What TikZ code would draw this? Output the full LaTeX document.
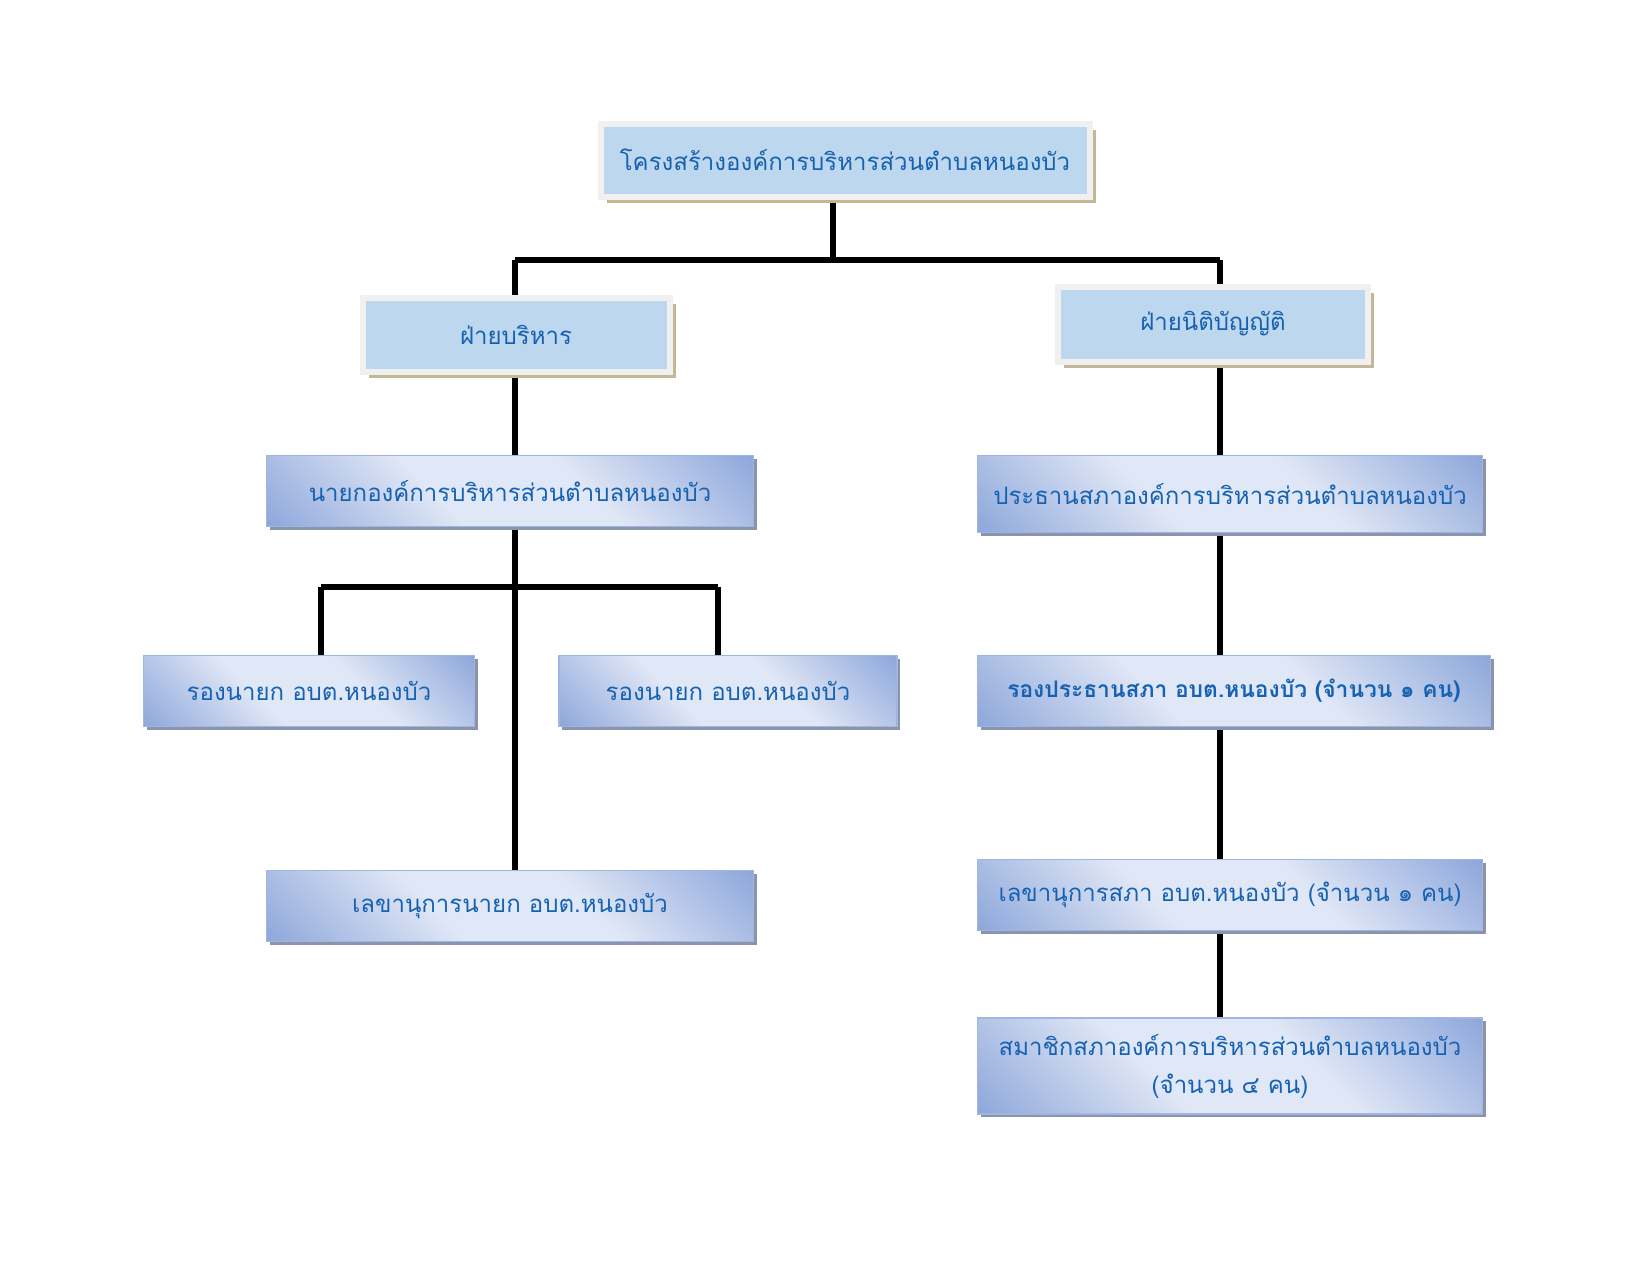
\documentclass[tikz,border=0pt]{standalone}
\usepackage{fontspec}
\newfontfamily\thaifont[Script=Thai]{Loma}
\usepackage{tikz}
\usetikzlibrary{shadows,backgrounds}
\definecolor{obtblue}{RGB}{22,98,178}
\definecolor{obtfill}{RGB}{189,215,238}
\definecolor{obtframe}{RGB}{240,240,240}
\definecolor{obttan}{RGB}{196,183,150}
\definecolor{obtlight}{RGB}{224,231,246}
\definecolor{obtdark}{RGB}{143,168,219}
\definecolor{obtedge}{RGB}{160,182,222}
\definecolor{obtshadow}{RGB}{138,148,172}
\pgfdeclareverticalshading{obtgrad}{100bp}{color(0bp)=(obtdark); color(15bp)=(obtdark); color(40bp)=(obtlight); color(60bp)=(obtlight); color(85bp)=(obtdark); color(100bp)=(obtdark)}
\tikzstyle{headbox} = [rectangle, draw=obtframe, line width=3pt, fill=obtfill, inner sep=0pt, text=obtblue, font=\thaifont\fontsize{12}{15}\selectfont, drop shadow={shadow xshift=3pt, shadow yshift=-3pt, fill=obttan, opacity=1}]
\tikzstyle{gradbox} = [rectangle, draw=obtedge, line width=0.6pt, shading=obtgrad, shading angle=-45, inner sep=0pt, align=center, text=obtblue, font=\thaifont\fontsize{12}{19}\selectfont, drop shadow={shadow xshift=1.5pt, shadow yshift=-1.5pt, fill=obtshadow, opacity=1}]
\tikzstyle{link} = [line width=3.2pt, black]

\begin{document}
\begin{tikzpicture}[x=0.5pt, y=-0.5pt]
    \useasboundingbox (0,0) rectangle (1650,1275);

    % top and the two sides
    \node[headbox, minimum width=244.5pt, minimum height=36.5pt] (top) at (845,160) {โครงสร้างองค์การบริหารส่วนตำบลหนองบัว};
    \node[headbox, minimum width=153.5pt, minimum height=37pt] (exec) at (516,335) {ฝ่ายบริหาร};
    \node[headbox, minimum width=155pt, minimum height=37.5pt] (legis) at (1213,324) {ฝ่ายนิติบัญญัติ};

    % executive side
    \node[gradbox, minimum width=243.5pt, minimum height=35.5pt] (mayor) at (510,491) {นายกองค์การบริหารส่วนตำบลหนองบัว};
    \node[gradbox, minimum width=165.5pt, minimum height=35.5pt] (deputyL) at (309,691) {รองนายก อบต.หนองบัว};
    \node[gradbox, minimum width=169pt, minimum height=35.5pt] (deputyR) at (728,691) {รองนายก อบต.หนองบัว};
    \node[gradbox, minimum width=243.5pt, minimum height=35.5pt] (secmayor) at (510,906) {เลขานุการนายก อบต.หนองบัว};

    % council side
    \node[gradbox, minimum width=252.5pt, minimum height=38.5pt] (chair) at (1230,494) {ประธานสภาองค์การบริหารส่วนตำบลหนองบัว};
    \node[gradbox, minimum width=256.5pt, minimum height=35.5pt] (vicechair) at (1234,691) {\bfseries\fontsize{11.4}{14}\selectfont รองประธานสภา อบต.หนองบัว (จำนวน ๑ คน)};
    \node[gradbox, minimum width=252.5pt, minimum height=35.5pt] (secclerk) at (1230,895) {เลขานุการสภา อบต.หนองบัว (จำนวน ๑ คน)};
    \node[gradbox, minimum width=252.5pt, minimum height=48pt] (members) at (1230,1066) {สมาชิกสภาองค์การบริหารส่วนตำบลหนองบัว\\(จำนวน ๔ คน)};

    \coordinate (busT) at (833,260);
    \coordinate (busL) at (515,260);
    \coordinate (busR) at (1220,260);
    \coordinate (subL) at (321,587);
    \coordinate (subR) at (718,587);

    \begin{pgfonlayer}{background}
    \draw[link] (busT |- top.south) -- (busT);
    \draw[link] (busL) -- (busR);
    \draw[link] (busL) -- (busL |- exec.north);
    \draw[link] (busR) -- (busR |- legis.north);

    \draw[link] (busL |- exec.south) -- (busL |- mayor.north);
    \draw[link] (busL |- mayor.south) -- (busL |- secmayor.north);
    \draw[link] (subL) -- (subR);
    \draw[link] (subL) -- (subL |- deputyL.north);
    \draw[link] (subR) -- (subR |- deputyR.north);

    \draw[link] (busR |- legis.south) -- (busR |- chair.north);
    \draw[link] (busR |- chair.south) -- (busR |- vicechair.north);
    \draw[link] (busR |- vicechair.south) -- (busR |- secclerk.north);
    \draw[link] (busR |- secclerk.south) -- (busR |- members.north);
    \end{pgfonlayer}
\end{tikzpicture}
\end{document}
